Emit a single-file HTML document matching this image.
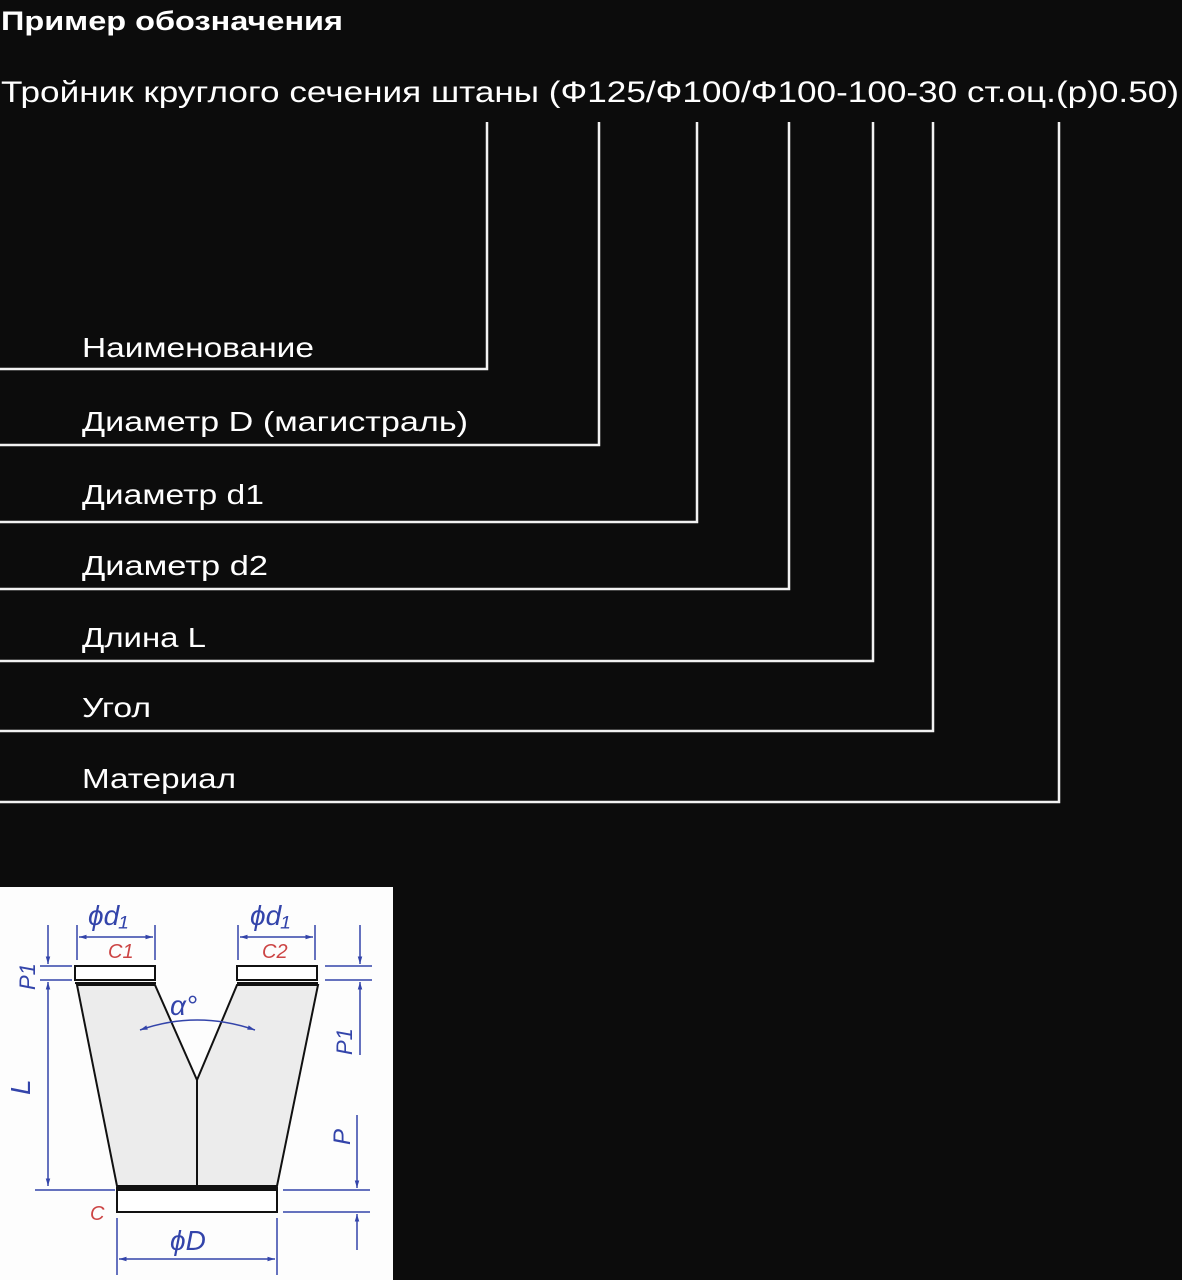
<!DOCTYPE html>
<html><head><meta charset="utf-8"><style>
html,body{margin:0;padding:0;background:#0c0c0c;}
svg{display:block}
text{font-family:"Liberation Sans",sans-serif;fill:#fff}
</style></head><body>
<svg width="1182" height="1280" viewBox="0 0 1182 1280" xmlns="http://www.w3.org/2000/svg">
<defs><marker id="a" viewBox="0 0 10 10" refX="10" refY="5" markerWidth="7" markerHeight="5" orient="auto-start-reverse"><path d="M0,2 L10,5 L0,8 z" fill="#3344aa"/></marker></defs>
<rect width="1182" height="1280" fill="#0c0c0c"/>
<text x="1" y="30" font-size="27" font-weight="bold" textLength="342" lengthAdjust="spacingAndGlyphs">Пример обозначения</text>
<text x="1" y="102" font-size="30" textLength="1178" lengthAdjust="spacingAndGlyphs">Тройник круглого сечения штаны (Ф125/Ф100/Ф100-100-30  ст.оц.(р)0.50)</text>
<g stroke="#f2f2f2" stroke-width="2.5" fill="none">
<polyline points="487,122 487,369 0,369"/>
<polyline points="599,122 599,445 0,445"/>
<polyline points="697,122 697,522 0,522"/>
<polyline points="789,122 789,589 0,589"/>
<polyline points="873,122 873,661 0,661"/>
<polyline points="933,122 933,731 0,731"/>
<polyline points="1059,122 1059,802 0,802"/>
</g>
<g font-size="28">
<text x="82" y="357" textLength="232" lengthAdjust="spacingAndGlyphs">Наименование</text>
<text x="82" y="431" textLength="386" lengthAdjust="spacingAndGlyphs">Диаметр D (магистраль)</text>
<text x="82" y="504" textLength="182" lengthAdjust="spacingAndGlyphs">Диаметр d1</text>
<text x="82" y="575" textLength="186" lengthAdjust="spacingAndGlyphs">Диаметр d2</text>
<text x="82" y="647" textLength="124" lengthAdjust="spacingAndGlyphs">Длина L</text>
<text x="82" y="717" textLength="69" lengthAdjust="spacingAndGlyphs">Угол</text>
<text x="82" y="788" textLength="154" lengthAdjust="spacingAndGlyphs">Материал</text>
</g>
<rect x="0" y="887" width="393" height="393" fill="#fdfdfd"/>
<g stroke="#111" stroke-width="2" fill="#ececec">
<polygon points="77,985 155,985 197,1080 237,985 318,985 277,1186 117,1186"/>
<line x1="197" y1="1080" x2="197" y2="1186"/>
<rect x="75" y="966" width="80" height="14" fill="#fff"/>
<rect x="237" y="966" width="80" height="14" fill="#fff"/>
<rect x="117" y="1190" width="160" height="22" fill="#fff"/>
<line x1="75" y1="983" x2="156" y2="983"/>
<line x1="237" y1="983" x2="318" y2="983"/>
<line x1="116" y1="1188" x2="278" y2="1188"/>
</g>
<g stroke="#3344aa" stroke-width="1.5" fill="none">
<line x1="77" y1="925" x2="77" y2="960"/><line x1="155" y1="925" x2="155" y2="960"/>
<line x1="79" y1="937" x2="153" y2="937" marker-start="url(#a)" marker-end="url(#a)"/>
<line x1="238" y1="925" x2="238" y2="960"/><line x1="315" y1="925" x2="315" y2="960"/>
<line x1="240" y1="937" x2="313" y2="937" marker-start="url(#a)" marker-end="url(#a)"/>
<line x1="40" y1="966" x2="72" y2="966"/><line x1="40" y1="980" x2="72" y2="980"/>
<line x1="48" y1="925" x2="48" y2="964" marker-end="url(#a)"/>
<line x1="48" y1="982" x2="48" y2="1186" marker-start="url(#a)" marker-end="url(#a)"/>
<line x1="35" y1="1190" x2="115" y2="1190"/>
<line x1="325" y1="966" x2="372" y2="966"/><line x1="325" y1="980" x2="372" y2="980"/>
<line x1="360" y1="925" x2="360" y2="964" marker-end="url(#a)"/>
<line x1="360" y1="982" x2="360" y2="1055" marker-start="url(#a)"/>
<line x1="357" y1="1115" x2="357" y2="1188" marker-end="url(#a)"/>
<line x1="357" y1="1214" x2="357" y2="1250" marker-start="url(#a)"/>
<line x1="283" y1="1190" x2="370" y2="1190"/><line x1="283" y1="1212" x2="370" y2="1212"/>
<line x1="117" y1="1218" x2="117" y2="1275"/><line x1="277" y1="1218" x2="277" y2="1275"/>
<line x1="119" y1="1259" x2="275" y2="1259" marker-start="url(#a)" marker-end="url(#a)"/>
<path d="M140,1030 Q197,1010 255,1030" marker-start="url(#a)" marker-end="url(#a)"/>
</g>
<g fill="#3344aa" font-size="28" font-style="italic">
<text x="88" y="925" style="fill:#3344aa">ϕd₁</text>
<text x="250" y="925" style="fill:#3344aa">ϕd₁</text>
<text x="170" y="1015" style="fill:#3344aa">α°</text>
<text x="170" y="1250" style="fill:#3344aa">ϕD</text>
<text x="30" y="1095" style="fill:#3344aa" transform="rotate(-90 30 1095)">L</text>
<text x="35" y="990" style="fill:#3344aa" font-size="22" transform="rotate(-90 35 990)">P1</text>
<text x="352" y="1055" style="fill:#3344aa" font-size="22" transform="rotate(-90 352 1055)">P1</text>
<text x="350" y="1145" style="fill:#3344aa" font-size="24" transform="rotate(-90 350 1145)">P</text>
</g>
<g font-size="20" font-style="italic">
<text x="108" y="958" style="fill:#c44">C1</text>
<text x="262" y="958" style="fill:#c44">C2</text>
<text x="90" y="1220" style="fill:#c44">C</text>
</g>
</svg>
</body></html>
